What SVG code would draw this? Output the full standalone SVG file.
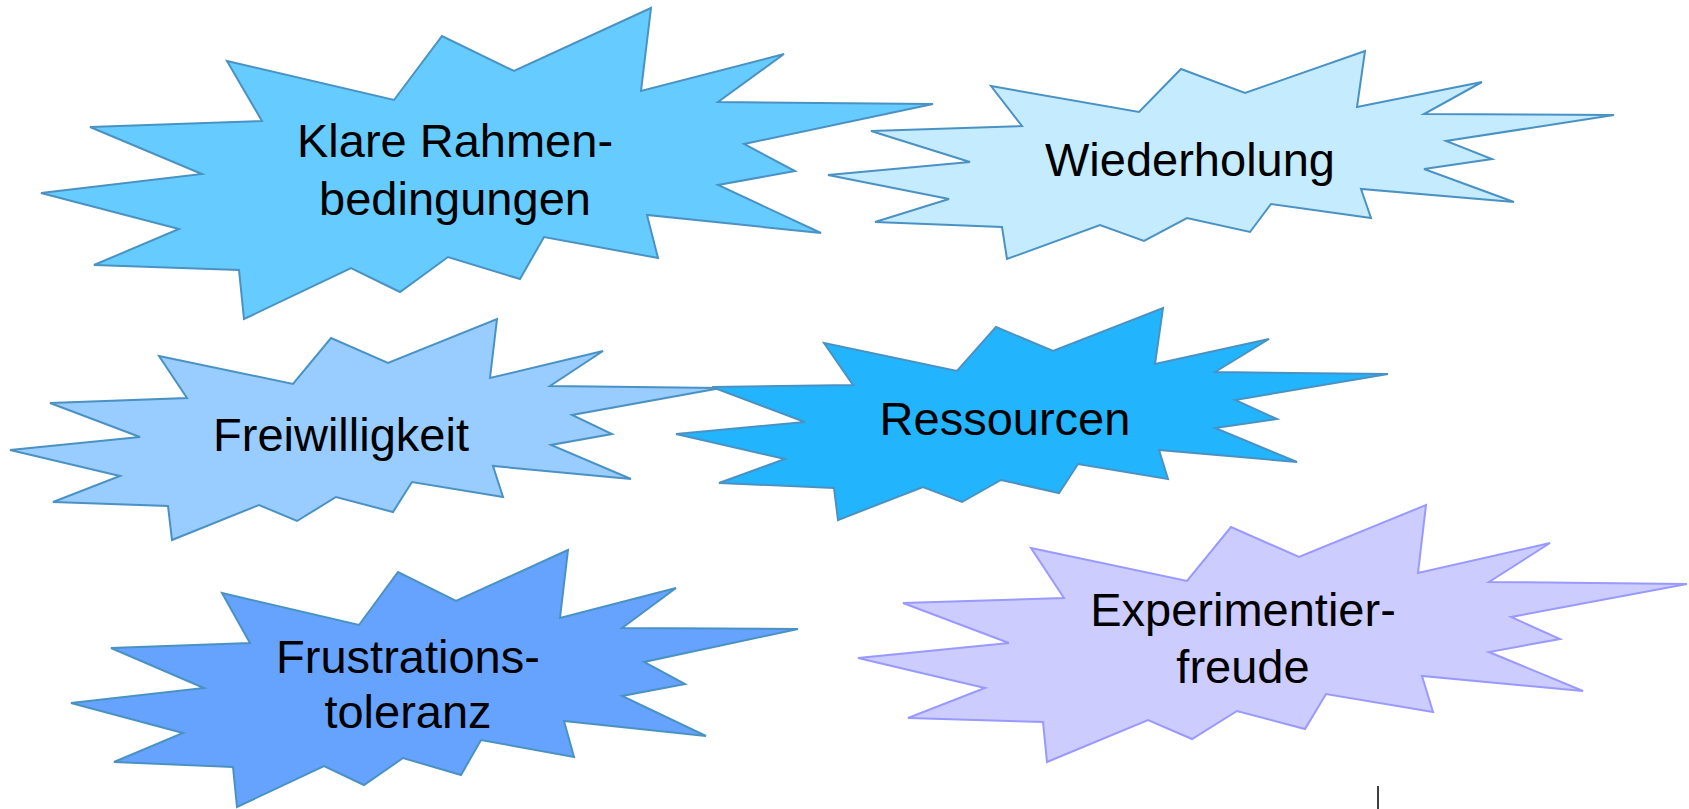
<svg xmlns="http://www.w3.org/2000/svg" width="1689" height="809" viewBox="0 0 1689 809">
<style>
.burst{stroke:#4A92C3;stroke-width:2;stroke-linejoin:miter}
.lbl{font-family:"Liberation Sans",Arial,sans-serif;font-size:47px;fill:#000;text-anchor:middle}
</style>
<rect width="1689" height="809" fill="#fff"/>
<g id="klare">
<polygon class="burst" fill="#66CCFF" points="227,61 394,100 442,36 514,71 651,8 641,91 784,54 718,102 933,104 744,144 795,171 718,185 821,233 647,215 658,258 544,237 520,279 448,257 400,292 351,268 244,319 239,270 94,265 179,229 41,193 202,174 90,127 262,121"/>
<text class="lbl" x="455" y="157">Klare Rahmen-</text>
<text class="lbl" x="455" y="215">bedingungen</text>
</g>
<g id="wiederholung">
<polygon class="burst" fill="#C5EBFF" points="991,86 1139,112 1181,69 1245,93 1365,51 1357,107 1482,82 1424,114 1614,115 1446,141 1492,159 1424,169 1514,202 1361,189 1371,218 1271,204 1250,232 1187,218 1144,241 1100,225 1007,259 1002,227 875,222 949,199 828,175 970,162 871,131 1022,126"/>
<text class="lbl" x="1190" y="176">Wiederholung</text>
</g>
<g id="freiwilligkeit">
<polygon class="burst" fill="#99CCFF" points="159,356 293,384 331,338 388,363 497,319 490,378 603,351 550,386 721,388 572,415 612,434 551,445 631,479 493,466 503,497 412,482 393,512 336,497 297,521 259,505 172,540 168,506 53,502 120,476 10,450 140,437 50,403 187,398"/>
<text class="lbl" x="341" y="451">Freiwilligkeit</text>
</g>
<g id="ressourcen">
<polygon class="burst" fill="#22B5FD" points="824,343 957,371 996,327 1053,351 1163,308 1155,364 1269,339 1215,372 1388,374 1235,400 1277,419 1215,428 1297,462 1159,450 1168,479 1078,464 1059,493 1001,480 962,502 923,487 838,520 834,488 719,483 785,459 676,434 805,422 712,387 853,385"/>
<text class="lbl" x="1005" y="435">Ressourcen</text>
</g>
<g id="frustrationstoleranz">
<polygon class="burst" fill="#66A3FF" points="222,593 359,625 398,572 456,601 568,550 560,618 676,588 622,628 798,629 644,662 685,684 622,696 706,736 564,721 574,757 481,740 461,775 403,758 364,785 324,766 237,807 233,767 114,762 183,733 71,703 204,688 111,648 250,643"/>
<text class="lbl" x="408" y="673">Frustrations-</text>
<text class="lbl" x="408" y="728">toleranz</text>
</g>
<g id="experimentierfreude">
<polygon fill="#CCCCFF" stroke="#9999FF" stroke-width="2" points="1031,548 1187,581 1231,527 1299,557 1426,505 1418,573 1550,543 1489,582 1687,584 1511,617 1560,639 1489,652 1583,691 1422,676 1433,712 1326,694 1305,729 1237,711 1192,739 1148,720 1047,762 1043,722 908,718 985,688 858,658 1009,643 903,603 1064,598"/>
<text class="lbl" x="1243" y="626">Experimentier-</text>
<text class="lbl" x="1243" y="683">freude</text>
</g>
<g id="connectors"></g>
<line x1="1378" y1="786" x2="1378" y2="809" stroke="#000" stroke-width="1.5"/>
</svg>
